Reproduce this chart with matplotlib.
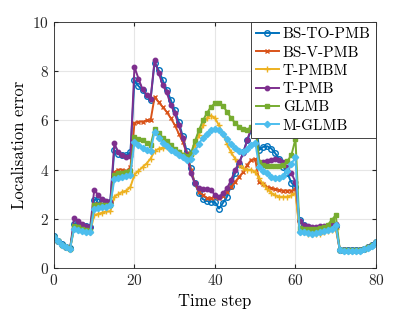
import matplotlib
matplotlib.use("Agg")
import matplotlib.pyplot as plt
import numpy as np

plt.rcParams['font.family'] = ['cmr10', 'DejaVu Serif']
plt.rcParams['mathtext.fontset'] = 'cm'
plt.rcParams['axes.formatter.use_mathtext'] = True

t = np.arange(0, 81)

bs_to_pmb = [1.3, 1.1, 0.97, 0.87, 0.8,
             1.8, 1.8, 1.75, 1.7, 1.65,
             2.78, 2.8, 2.75, 2.7, 2.7,
             4.8, 4.65, 4.6, 4.6, 4.7,
             7.65, 7.4, 7.25, 7.0, 6.85,
             8.35, 8.05, 7.65, 7.25, 6.85, 6.42, 5.95, 5.35, 4.75, 4.05,
             3.45, 3.05, 2.8, 2.72, 2.7, 2.68, 2.42, 2.65, 2.9, 3.35,
             3.85, 4.25, 4.7, 5.2, 5.6, 6.1,
             4.8, 4.93, 4.95, 4.86, 4.66, 4.42, 4.12, 3.85, 3.47, 3.3,
             1.95, 1.75, 1.65, 1.6, 1.6, 1.6, 1.62, 1.65, 1.68, 1.72,
             0.75, 0.73, 0.72, 0.72, 0.72, 0.73, 0.78, 0.85, 0.93, 1.07]

bs_v_pmb = [1.25, 1.08, 0.95, 0.85, 0.78,
            1.7, 1.7, 1.65, 1.6, 1.55,
            2.6, 2.6, 2.6, 2.6, 2.62,
            3.9, 4.0, 4.0, 3.95, 4.1,
            5.9, 5.95, 5.95, 6.0, 6.0,
            6.95, 6.75, 6.55, 6.35, 6.1, 5.82, 5.47, 5.13, 4.66, 3.98,
            3.44, 3.1, 2.97, 2.85, 2.83, 2.9, 2.83, 2.93, 3.1, 3.3,
            3.5, 3.71, 3.9, 4.19, 4.4, 4.42,
            3.5, 3.4, 3.3, 3.25, 3.2, 3.17, 3.15, 3.15, 3.15, 3.2,
            1.55, 1.5, 1.48, 1.48, 1.5, 1.52, 1.55, 1.6, 1.62, 1.7,
            0.75, 0.73, 0.72, 0.72, 0.72, 0.73, 0.78, 0.85, 0.92, 1.05]

t_pmbm = [1.25, 1.08, 0.95, 0.85, 0.78,
          1.62, 1.6, 1.55, 1.5, 1.47,
          2.15, 2.2, 2.25, 2.3, 2.3,
          2.9, 3.0, 3.1, 3.15, 3.3,
          3.8, 3.95, 4.1, 4.25, 4.45,
          4.75, 4.85, 4.9, 4.92, 4.9, 4.8, 4.7, 4.6, 4.5, 4.6,
          5.0, 5.4, 5.8, 6.1, 6.2, 6.1, 5.8, 5.45, 5.05, 4.7,
          4.45, 4.2, 4.05, 4.0, 4.0, 3.9,
          3.65, 3.4, 3.2, 3.05, 2.95, 2.9, 2.9, 2.9, 2.95, 3.05,
          1.5, 1.45, 1.4, 1.38, 1.38, 1.4, 1.45, 1.5, 1.55, 1.6,
          0.74, 0.72, 0.71, 0.71, 0.71, 0.72, 0.77, 0.84, 0.91, 1.04]

t_pmb = [1.25, 1.08, 0.95, 0.85, 0.78,
         2.02, 1.93, 1.8, 1.7, 1.65,
         3.17, 2.97, 2.8, 2.73, 2.7,
         5.07, 4.7, 4.6, 4.5, 4.55,
         8.18, 7.7, 7.27, 7.05, 6.87,
         8.45, 7.95, 7.44, 7.15, 6.65, 6.29, 5.81, 5.3, 4.6, 3.85,
         3.44, 3.27, 3.2, 3.22, 3.17, 2.97, 2.9, 3.04, 3.24, 3.58,
         3.98, 4.3, 4.66, 5.2, 5.68, 5.88,
         4.3, 4.3, 4.35, 4.4, 4.45, 4.4, 4.3, 4.1, 3.85, 3.5,
         1.9, 1.75, 1.7, 1.68, 1.68, 1.7, 1.7, 1.72, 1.75, 1.8,
         0.75, 0.73, 0.72, 0.72, 0.72, 0.73, 0.78, 0.85, 0.92, 1.05]

glmb = [1.25, 1.08, 0.95, 0.85, 0.78,
        1.7, 1.65, 1.6, 1.55, 1.5,
        2.55, 2.55, 2.55, 2.55, 2.55,
        3.8, 3.85, 3.85, 3.9, 3.95,
        5.34, 5.25, 5.2, 5.1, 5.0,
        5.65, 5.5, 5.3, 5.15, 5.0, 4.85, 4.7, 4.6, 4.55, 4.65,
        5.15, 5.6, 6.0, 6.3, 6.55, 6.7, 6.72, 6.6, 6.35, 6.1,
        5.9, 5.75, 5.65, 5.6, 5.75, 5.9,
        4.3, 4.2, 4.15, 4.15, 4.15, 4.15, 4.2, 4.35, 4.6, 5.25,
        1.62, 1.6, 1.6, 1.6, 1.6, 1.62, 1.65, 1.75, 1.95, 2.15,
        0.75, 0.73, 0.72, 0.72, 0.72, 0.73, 0.78, 0.85, 0.92, 1.05]

m_glmb = [1.25, 1.08, 0.95, 0.85, 0.78,
          1.6, 1.55, 1.5, 1.45, 1.45,
          2.4, 2.45, 2.5, 2.5, 2.55,
          3.6, 3.65, 3.7, 3.75, 3.8,
          5.13, 5.0, 4.9, 4.8, 4.75,
          5.55, 5.3, 5.1, 4.95, 4.8, 4.7, 4.6, 4.5, 4.4, 4.45,
          4.75, 5.05, 5.3, 5.45, 5.6, 5.65, 5.6, 5.45, 5.25, 5.05,
          4.87, 4.75, 4.72, 4.85, 5.0, 5.1,
          4.1, 3.95, 3.85, 3.72, 3.65, 3.65, 3.75, 3.95, 4.25, 4.5,
          1.45, 1.45, 1.42, 1.4, 1.42, 1.45, 1.5, 1.55, 1.6, 1.75,
          0.73, 0.71, 0.7, 0.7, 0.7, 0.71, 0.76, 0.83, 0.9, 1.04]

labels = ['BS-TO-PMB', 'BS-V-PMB', 'T-PMBM', 'T-PMB', 'GLMB', 'M-GLMB']
series = [bs_to_pmb, bs_v_pmb, t_pmbm, t_pmb, glmb, m_glmb]
colors = ['#0072BD', '#D95319', '#EDB120', '#7E2F8E', '#77AC30', '#4DBEEE']
markers = ['o', 'x', '+', 'o', 's', 'D']
msizes = [4.0, 3.0, 4.0, 3.2, 3.2, 3.2]
mfc = ['none', None, None, None, None, None]

fig = plt.figure(figsize=(4.15, 3.12), dpi=100)
ax = fig.add_axes([0.130, 0.141, 0.776, 0.788])

for y, lab, c, m, ms, fc in zip(series, labels, colors, markers, msizes, mfc):
    kw = dict(color=c, marker=m, markersize=ms, linewidth=1.4, label=lab,
              markeredgewidth=1.0)
    if fc is not None:
        kw['markerfacecolor'] = fc
    ax.plot(t, y, **kw)

ax.set_xlim(0, 80)
ax.set_ylim(0, 10)
ax.set_xticks([0, 20, 40, 60, 80])
ax.set_yticks([0, 2, 4, 6, 8, 10])
ax.grid(True, color='#e6e6e6', linewidth=0.8)
ax.set_axisbelow(True)
ax.tick_params(direction='in', length=3, labelsize=11, colors='#262626',
               top=True, right=True)
for s in ax.spines.values():
    s.set_color('#262626')
    s.set_linewidth(0.6)
ax.set_xlabel('Time step', fontsize=12)
ax.set_ylabel('Localisation error', fontsize=12)

leg = ax.legend(loc='upper right', fontsize=11, frameon=True, fancybox=False,
                edgecolor='#262626', framealpha=1, borderpad=0.35,
                labelspacing=0.3, handlelength=1.5, handletextpad=0.25,
                borderaxespad=0.0)
leg.get_frame().set_linewidth(0.6)

fig.savefig('out.png', dpi=100)
